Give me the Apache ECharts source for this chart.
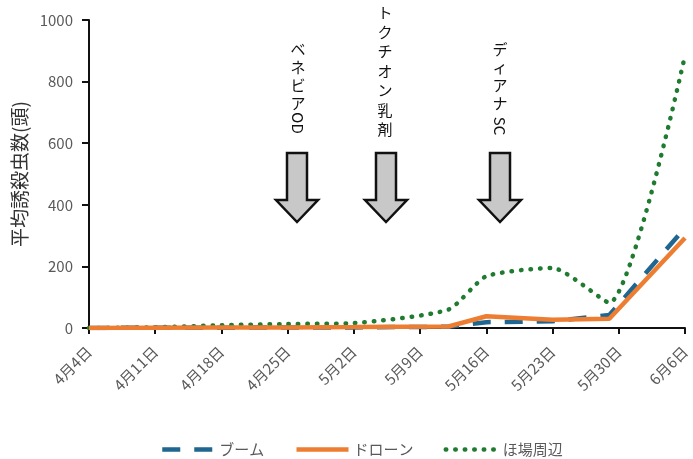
<!DOCTYPE html>
<html>
<head>
<meta charset="utf-8">
<script src="https://cdn.jsdelivr.net/npm/echarts@6/dist/echarts.min.js"></script>
<style>
  html, body { margin: 0; padding: 0; background: #fff; }
  #chart { width: 693px; height: 459px; }
</style>
</head>
<body>
<div id="chart"></div>
<script>
// 調査日
const dates = ['2021-04-04', '2021-04-11', '2021-04-18', '2021-04-25', '2021-05-02',
               '2021-05-12', '2021-05-16', '2021-05-23', '2021-05-29', '2021-06-06'];
// 平均誘殺虫数
const boom  = [0, 1, 1, 2, 2, 4, 19, 22, 42, 325];
const drone = [0, 1, 2, 2, 3, 5, 38, 27, 30, 292];
const field = [0, 2, 9, 13, 16, 60, 168, 195, 82, 885];
const seriesNames = ['ブーム', 'ドローン', 'ほ場周辺'];
const startDate = '2021-04-04';
const endDate = '2021-06-06';

const DAY = 86400000;
const t0 = Date.parse(startDate);
const dayOf = s => Math.round((Date.parse(s) - t0) / DAY);
const pairs = vals => dates.map((d, i) => [dayOf(d), vals[i]]);

const font = '"Noto Sans CJK JP", "Noto Sans", sans-serif';

// 散布した薬剤の注記（縦書き + 矢印）
function vText(x, top, chars, step, latin, latinY) {
  const els = [{
    type: 'text', x: x, y: top,
    style: { text: chars.split('').join('\n'), font: '15px ' + font, fill: '#111',
             align: 'center', verticalAlign: 'top', lineHeight: step }
  }];
  if (latin) {
    els.push({
      type: 'text', x: x, y: latinY, rotation: -Math.PI / 2,
      style: { text: latin, font: '15px ' + font, fill: '#111',
               align: 'center', verticalAlign: 'middle' }
    });
  }
  return els;
}
function arrow(cx) {
  const top = 153, neck = 200, tip = 222, sw = 10, hw = 21;
  return {
    type: 'polygon',
    shape: { points: [[cx - sw, top], [cx + sw, top], [cx + sw, neck], [cx + hw, neck],
                      [cx, tip], [cx - hw, neck], [cx - sw, neck]] },
    style: { fill: '#c8c8c8', stroke: '#111', lineWidth: 2.5 }
  };
}

const chart = echarts.init(document.getElementById('chart'));
chart.setOption({
  animation: false,
  textStyle: { fontFamily: font },
  grid: { left: 89, right: 8, top: 20, bottom: 131 },
  legend: {
    left: 155, top: 437,
    itemWidth: 52, itemHeight: 14, itemGap: 30,
    itemStyle: { opacity: 0 },
    lineStyle: { width: 4.5 },
    textStyle: { fontSize: 15, color: '#595959' },
    data: seriesNames
  },
  xAxis: {
    type: 'value',
    min: 0, max: dayOf(endDate), interval: 7,
    axisLine: { lineStyle: { color: '#111', width: 2 } },
    axisTick: { length: 6, lineStyle: { color: '#111', width: 2 } },
    splitLine: { show: false },
    axisLabel: {
      rotate: 45, margin: 21, fontSize: 15, color: '#595959',
      formatter: v => {
        const d = new Date(t0 + v * DAY);
        return (d.getUTCMonth() + 1) + '月' + d.getUTCDate() + '日';
      }
    }
  },
  yAxis: {
    type: 'value',
    min: 0, max: 1000, interval: 200,
    name: '平均誘殺虫数(頭)',
    nameLocation: 'middle', nameGap: 60,
    nameTextStyle: { fontSize: 19, color: '#333' },
    axisLine: { show: true, lineStyle: { color: '#111', width: 2 } },
    axisTick: { show: true, length: 7, lineStyle: { color: '#111', width: 2 } },
    splitLine: { show: false },
    axisLabel: { margin: 16, fontSize: 15, color: '#595959', formatter: v => String(v) }
  },
  series: [
    {
      name: seriesNames[0], type: 'line', symbol: 'none', data: pairs(boom),
      itemStyle: { color: '#1f6690' },
      lineStyle: { color: '#1f6690', width: 4.5, type: [18, 14] }, z: 3
    },
    {
      name: seriesNames[1], type: 'line', symbol: 'none', data: pairs(drone),
      itemStyle: { color: '#ed7d31' },
      lineStyle: { color: '#ed7d31', width: 4.5 }, z: 4
    },
    {
      name: seriesNames[2], type: 'line', symbol: 'none', smooth: 0.2, data: pairs(field),
      itemStyle: { color: '#1e7b30' },
      lineStyle: { color: '#1e7b30', width: 4.5, type: [0.5, 9], cap: 'round' }, z: 2
    }
  ],
  graphic: [
    ...vText(298, 40, 'ベネビア', 18, 'OD', 123),
    ...vText(385, 3, 'トクチオン乳剤', 19.5),
    ...vText(500, 40, 'ディアナ', 18, 'SC', 126),
    arrow(297), arrow(386), arrow(500)
  ]
});
</script>
</body>
</html>
